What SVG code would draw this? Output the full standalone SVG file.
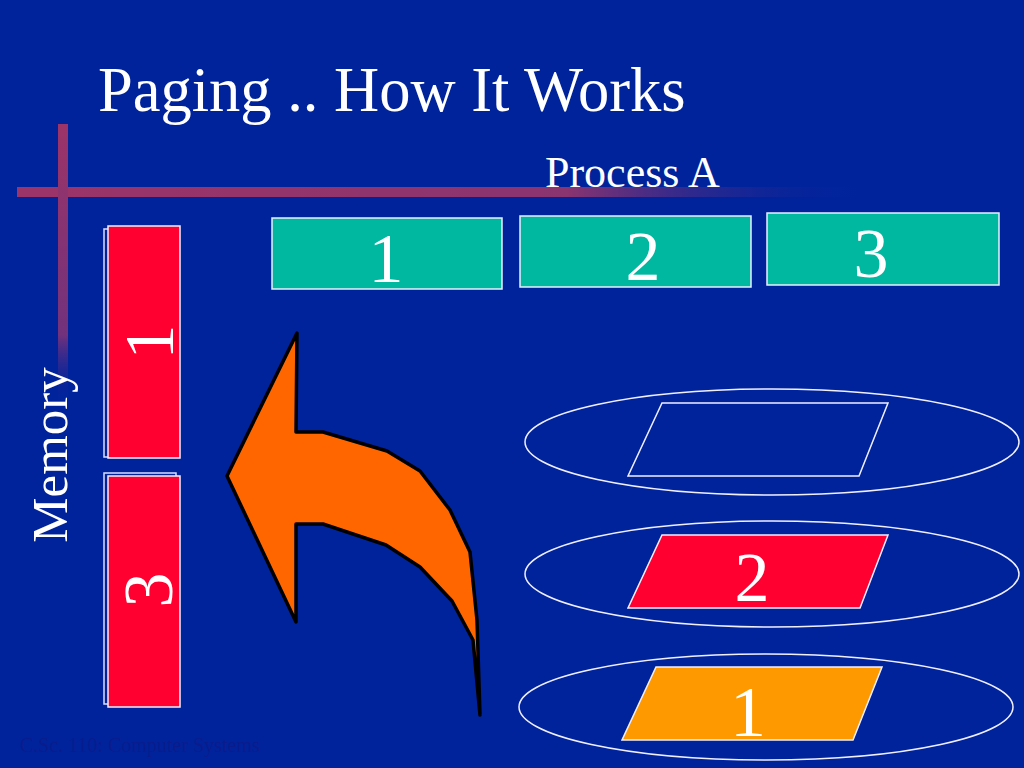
<svg xmlns="http://www.w3.org/2000/svg" width="1024" height="768" viewBox="0 0 1024 768">
<defs>
<linearGradient id="hbar" x1="17" y1="0" x2="865" y2="0" gradientUnits="userSpaceOnUse">
<stop offset="0" stop-color="#9C3468"/>
<stop offset="0.65" stop-color="#8A3470"/>
<stop offset="1" stop-color="#00239C" stop-opacity="0"/>
</linearGradient>
<linearGradient id="vbar" x1="0" y1="124" x2="0" y2="405" gradientUnits="userSpaceOnUse">
<stop offset="0" stop-color="#9C3468"/>
<stop offset="0.75" stop-color="#72327C"/>
<stop offset="1" stop-color="#00239C" stop-opacity="0"/>
</linearGradient>
<style>
.serif{font-family:"Liberation Serif","Times New Roman",serif;fill:#ffffff}
.teal{fill:#00B8A0;stroke:#E8F0FF;stroke-width:1.5}
.red{fill:#FF0030;stroke:#F0F0FF;stroke-width:1.5}
.shadow{fill:none;stroke:#D8E0FF;stroke-width:1.5}
.ell{fill:none;stroke:#F0F0FF;stroke-width:1.5}
.num{font-size:70px;text-anchor:middle}
</style>
</defs>
<rect x="0" y="0" width="1024" height="768" fill="#00239C"/>

<g id="decor">
<rect x="17" y="187" width="848" height="10" fill="url(#hbar)"/>
<rect x="58" y="124" width="10" height="281" fill="url(#vbar)"/>
</g>

<text id="title" class="serif" x="98" y="111" font-size="62.5">Paging .. How It Works</text>
<text id="process-label" class="serif" x="545" y="187" font-size="44">Process A</text>
<text id="memory-label" class="serif" font-size="51" text-anchor="middle" transform="translate(67,455) rotate(-90)">Memory</text>

<g id="page-a1">
<rect class="teal" x="272" y="218" width="230" height="71"/>
<text class="serif num" x="386" y="282">1</text>
</g>
<g id="page-a2">
<rect class="teal" x="520" y="216" width="231" height="71"/>
<text class="serif num" x="643" y="280">2</text>
</g>
<g id="page-a3">
<rect class="teal" x="767" y="213" width="232" height="72"/>
<text class="serif num" x="871" y="277">3</text>
</g>

<g id="mem-frame-1">
<rect class="shadow" x="104" y="229" width="72" height="228"/>
<rect class="red" x="108" y="226" width="72" height="232"/>
<text class="serif num" transform="translate(173,342) rotate(-90)">1</text>
</g>
<g id="mem-frame-3">
<rect class="shadow" x="104" y="473" width="72" height="231"/>
<rect class="red" x="108" y="476" width="72" height="231"/>
<text class="serif num" transform="translate(172,590) rotate(-90)">3</text>
</g>

<g id="connectors">
<path d="M227,476 L297,333 L296,432 L323,432 L387,451 L420,471 L450,510 L470,552 L477,620 L480,715 L473,640 L452,601 L420,567 L386,545 L323,524 L296,524 L296,622 Z" fill="#FF6600" stroke="#000000" stroke-width="3.5" stroke-linejoin="round"/>
</g>

<g id="slot-empty">
<ellipse class="ell" cx="772" cy="442" rx="247" ry="53"/>
<polygon points="662,403 888,403 859,476 628,476" fill="none" stroke="#F0F0FF" stroke-width="1.5"/>
</g>
<g id="slot-2">
<ellipse class="ell" cx="772" cy="574" rx="247" ry="53"/>
<polygon points="662,535 888,535 860,608 628,608" fill="#FF0030" stroke="#F0F0FF" stroke-width="1.5"/>
<text class="serif num" x="752" y="601">2</text>
</g>
<g id="slot-1">
<ellipse class="ell" cx="766" cy="707" rx="247" ry="53"/>
<polygon points="656,667 882,667 853,740 622,740" fill="#FF9900" stroke="#F0F0FF" stroke-width="1.5"/>
<text class="serif" font-size="72" text-anchor="middle" x="748" y="736">1</text>
</g>

<text id="footer" x="20" y="752" font-size="20" font-family="Liberation Serif, Times New Roman, serif" fill="#0A1C8C">C.Sc. 110: Computer Systems</text>
</svg>
